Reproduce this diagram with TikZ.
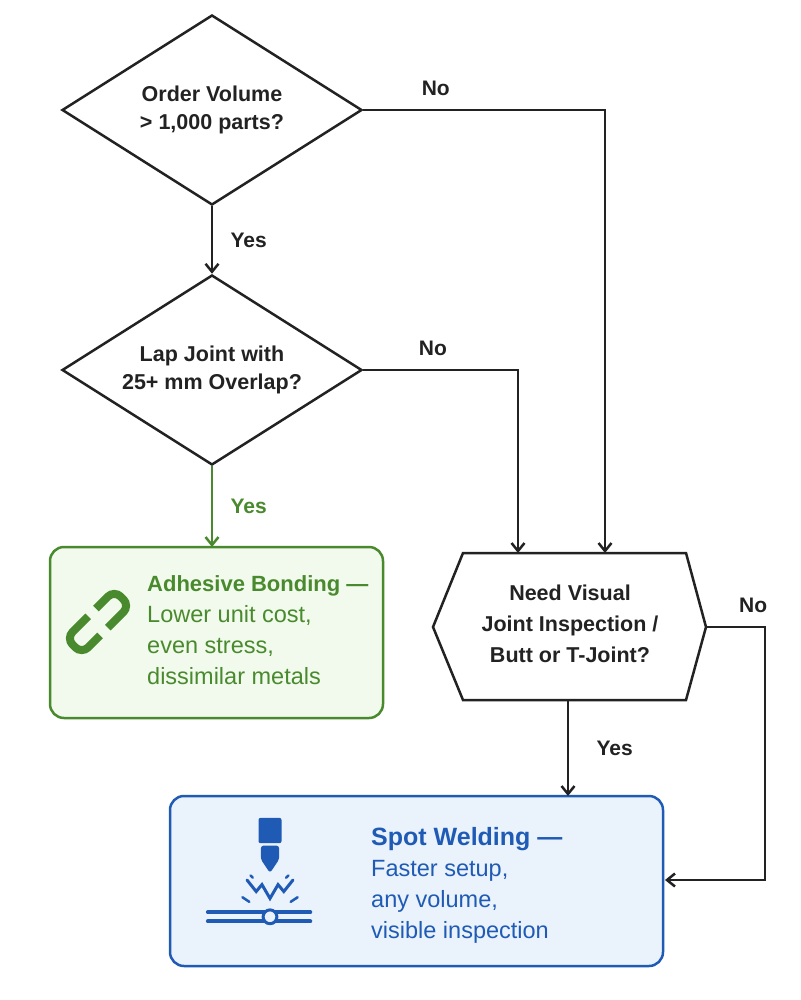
\documentclass[tikz,border=0pt]{standalone}
\usepackage{fontspec}
\setmainfont{Liberation Sans}
\usetikzlibrary{shapes.geometric,arrows.meta}
\definecolor{ink}{HTML}{222222}
\definecolor{leaf}{HTML}{4A8A2E}
\definecolor{leafbg}{HTML}{F1FAEC}
\definecolor{sea}{HTML}{1F5BB5}
\definecolor{seabg}{HTML}{EAF2FC}
\tikzset{
  decision/.style={diamond,draw=ink,line width=2.5pt,minimum width=300pt,minimum height=190pt,aspect=1.58,inner sep=0pt,align=center,font=\fontsize{21.5}{28}\selectfont\bfseries,text=ink},
  flow/.style={draw=ink,line width=2.5pt,-{Straight Barb[length=8pt,width=13pt]}},
  lbl/.style={font=\fontsize{21}{25}\selectfont\bfseries,text=ink},
}
\begin{document}
\begin{tikzpicture}[x=1pt,y=-1pt]
  \useasboundingbox (0,0) rectangle (800,1000);
  % decisions
  \node[decision] (volume) at (212,110) {Order Volume\\> 1,000 parts?};
  \node[decision] (lap) at (212,370) {Lap Joint with\\25+ mm Overlap?};
  % hexagon decision
  \draw[ink,line width=2.5pt] (433,627) -- (463,553) -- (686,553) -- (706,627) -- (686,700) -- (463,700) -- cycle;
  \node[align=center,font=\fontsize{21.5}{31}\selectfont\bfseries,text=ink] (inspect) at (570,624) {Need Visual\\Joint Inspection /\\Butt or T-Joint?};
  \coordinate (insptopA) at (518,553);
  \coordinate (insptopB) at (605,553);
  \coordinate (inspbot) at (568,700);
  \coordinate (inspright) at (706,627);
  % outcomes
  \draw[leaf,fill=leafbg,line width=2.5pt,rounded corners=14pt] (50,547) rectangle (383,718);
  \node[anchor=north west,align=left,text=leaf,font=\fontsize{23.5}{31}\selectfont,inner sep=0pt] (bond) at (147,575)
    {\textbf{\fontsize{22}{31}\selectfont Adhesive Bonding —}\\Lower unit cost,\\even stress,\\dissimilar metals};
  \coordinate (bondtop) at (212,547);
  \draw[sea,fill=seabg,line width=2.5pt,rounded corners=14pt] (170,796) rectangle (663,966);
  \node[anchor=north west,align=left,text=sea,font=\fontsize{23.5}{31}\selectfont,inner sep=0pt] (weld) at (371,827)
    {\textbf{\fontsize{25}{35}\selectfont Spot Welding —}\\Faster setup,\\any volume,\\visible inspection};
  \coordinate (weldtop) at (568,796);
  \coordinate (weldright) at (665,880);
  % link icon
  \begin{scope}[shift={(98,622)},rotate=45,leaf,line width=8pt]
    \draw[rounded corners=9pt] (-3,-11) -- (-34,-11) -- (-34,11) -- (-8,11);
    \draw[rounded corners=9pt] (3,11) -- (34,11) -- (34,-11) -- (8,-11);
  \end{scope}
  % weld icon
  \begin{scope}[sea,shift={(270,880)},scale=1.15,shift={(-270,-880)}]
    \fill[rounded corners=2pt] (260,826) rectangle (280,848);
    \fill[rounded corners=3pt] (262,850) -- (278,850) -- (278,862) -- (270,874) -- (262,862) -- cycle;
    \draw[line width=3pt,line cap=round] (250,880) -- (258,890) -- (263,884) -- (270,896) -- (277,884) -- (282,890) -- (290,880);
    \draw[line width=2.5pt,line cap=round] (246,895) -- (252,899) (294,895) -- (288,899) (253,876) -- (255,878) (286,876) -- (284,878);
    \draw[line width=4pt,line cap=round] (216,908) -- (305,908) (216,916) -- (305,916);
    \draw[line width=3pt,fill=seabg] (270,912) circle (6);
  \end{scope}
  % connectors
  \draw[flow] (volume.south) -- (lap.north) node[lbl,midway,right=14pt] {Yes};
  \draw[flow] (volume.east) -- (605,110) node[lbl,pos=0.3,above=10pt] {No} -- (insptopB);
  \draw[flow] (lap.east) -- (518,370) node[lbl,pos=0.45,above=10pt] {No} -- (insptopA);
  \draw[flow,draw=leaf] (lap.south) -- (bondtop) node[lbl,text=leaf,midway,right=14pt] {Yes};
  \draw[flow] (inspbot) -- (weldtop) node[lbl,midway,right=24pt] {Yes};
  \draw[flow] (inspright) -- (765,627) node[lbl,pos=0.8,above=10pt] {No} -- (765,880) -- (weldright);
\end{tikzpicture}
\end{document}
